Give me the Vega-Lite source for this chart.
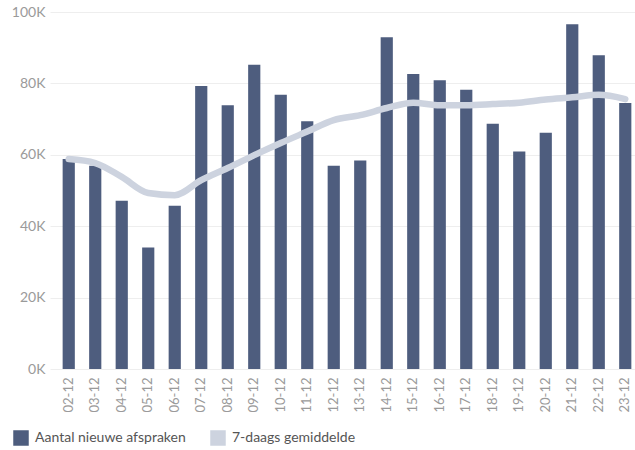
{
  "$schema": "https://vega.github.io/schema/vega-lite/v6.json",
  "width": 585,
  "height": 357,
  "autosize": "none",
  "padding": {"left": 50, "top": 12, "right": 0, "bottom": 81},
  "background": "white",
  "config": {
    "font": "Lato",
    "view": {"stroke": null}
  },
  "data": {
    "values": [
      {"datum": "02-12", "aantal": 58800, "gem": 58800},
      {"datum": "03-12", "aantal": 56900, "gem": 57700},
      {"datum": "04-12", "aantal": 47100, "gem": 53800},
      {"datum": "05-12", "aantal": 34000, "gem": 49300},
      {"datum": "06-12", "aantal": 45700, "gem": 48700},
      {"datum": "07-12", "aantal": 79300, "gem": 52900},
      {"datum": "08-12", "aantal": 73900, "gem": 56300},
      {"datum": "09-12", "aantal": 85200, "gem": 59900},
      {"datum": "10-12", "aantal": 76800, "gem": 63300},
      {"datum": "11-12", "aantal": 69400, "gem": 66500},
      {"datum": "12-12", "aantal": 56900, "gem": 69700},
      {"datum": "13-12", "aantal": 58400, "gem": 71100},
      {"datum": "14-12", "aantal": 92900, "gem": 73100},
      {"datum": "15-12", "aantal": 82600, "gem": 74600},
      {"datum": "16-12", "aantal": 80900, "gem": 73900},
      {"datum": "17-12", "aantal": 78200, "gem": 73900},
      {"datum": "18-12", "aantal": 68700, "gem": 74200},
      {"datum": "19-12", "aantal": 60900, "gem": 74600},
      {"datum": "20-12", "aantal": 66200, "gem": 75500},
      {"datum": "21-12", "aantal": 96600, "gem": 76100},
      {"datum": "22-12", "aantal": 87900, "gem": 76800},
      {"datum": "23-12", "aantal": 74500, "gem": 75600}
    ]
  },
  "encoding": {
    "x": {
      "field": "datum",
      "type": "nominal",
      "sort": null,
      "scale": {"range": [0, 594], "paddingInner": 0.54, "paddingOuter": 0.477},
      "axis": {
        "title": null,
        "labelAngle": -90,
        "labelColor": "#9a9a9a",
        "labelFontSize": 13,
        "labelPadding": 8,
        "ticks": false,
        "domain": false
      }
    }
  },
  "layer": [
    {
      "mark": {"type": "bar"},
      "encoding": {
        "y": {
          "field": "aantal",
          "type": "quantitative",
          "scale": {"domain": [0, 100000], "nice": false},
          "axis": {
            "title": null,
            "values": [0, 20000, 40000, 60000, 80000, 100000],
            "labelExpr": "datum.value / 1000 + 'K'",
            "labelColor": "#9a9a9a",
            "labelFontSize": 14,
            "labelPadding": 5,
            "ticks": false,
            "domain": false,
            "gridColor": "#eeeeee",
            "gridWidth": 1
          }
        },
        "color": {
          "datum": "Aantal nieuwe afspraken",
          "type": "nominal",
          "scale": {
            "domain": ["Aantal nieuwe afspraken", "7-daags gemiddelde"],
            "range": ["#4e5d7e", "#cdd3df"]
          },
          "legend": {
            "title": null,
            "orient": "none",
            "direction": "horizontal",
            "legendX": -37,
            "legendY": 418,
            "symbolType": "square",
            "symbolSize": 196,
            "symbolOpacity": 1,
            "labelFontSize": 14,
            "labelColor": "#555555",
            "labelOffset": 6,
            "columnPadding": 22,
            "encode": {
              "symbols": {
                "update": {
                  "fill": {"scale": "color", "field": "value"},
                  "stroke": {"value": "transparent"},
                  "shape": {"value": "square"}
                }
              }
            }
          }
        }
      }
    },
    {
      "mark": {"type": "line", "interpolate": "monotone", "strokeWidth": 6.5, "strokeCap": "round"},
      "encoding": {
        "y": {"field": "gem", "type": "quantitative"},
        "color": {"datum": "7-daags gemiddelde", "type": "nominal"}
      }
    }
  ]
}
